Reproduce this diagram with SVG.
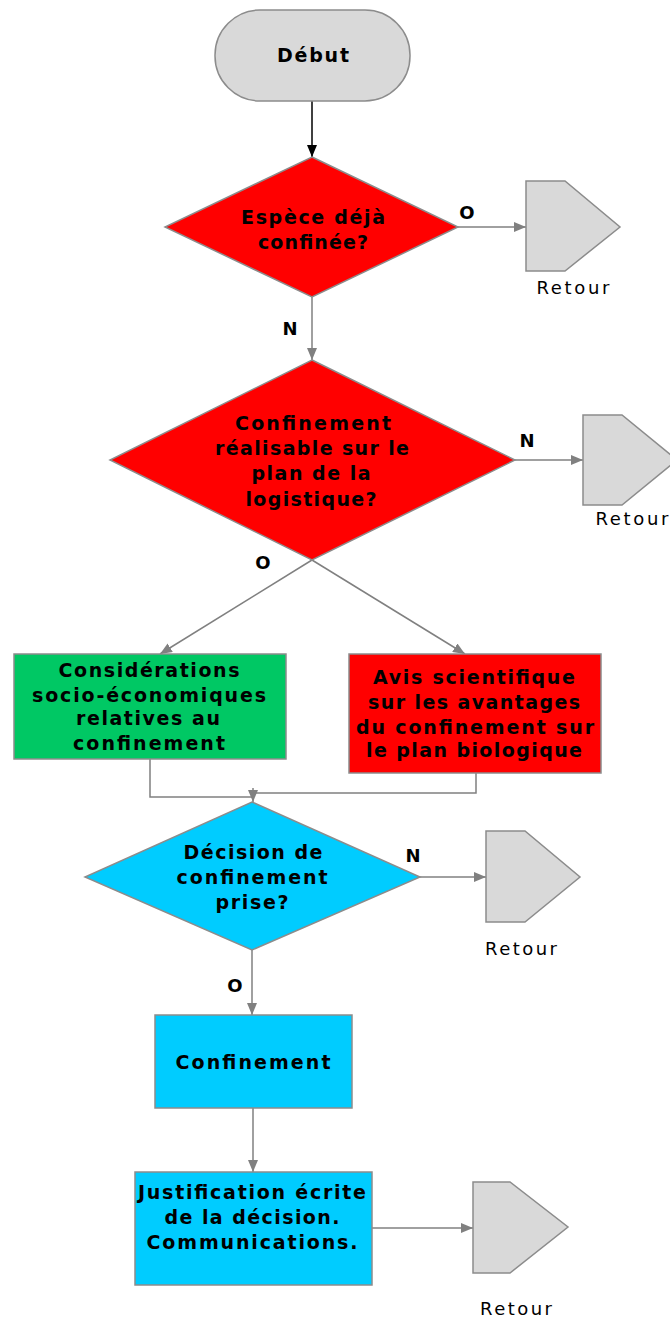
<svg xmlns="http://www.w3.org/2000/svg" width="670" height="1320" viewBox="0 0 670 1320">
  <defs>
    <marker id="arrow-gray" viewBox="0 0 12 10" refX="12" refY="5" markerWidth="12" markerHeight="10" markerUnits="userSpaceOnUse" orient="auto">
      <path d="M0,0 L12,5 L0,10 z" fill="#808080"/>
    </marker>
    <marker id="arrow-black" viewBox="0 0 12 10" refX="12" refY="5" markerWidth="12" markerHeight="10" markerUnits="userSpaceOnUse" orient="auto">
      <path d="M0,0 L12,5 L0,10 z" fill="#000"/>
    </marker>
  </defs>
  <style>
    .shape { stroke: #8c8c8c; stroke-width: 1.5; }
    .start { fill: #d9d9d9; }
    .ret { fill: #d9d9d9; }
    .red { fill: #ff0000; }
    .green { fill: #00c864; }
    .blue { fill: #00ccff; }
    .t { font-family: "DejaVu Sans", "Liberation Sans", sans-serif; font-weight: bold; font-size: 19px; fill: #000; text-anchor: middle; }
    .lbl { font-family: "DejaVu Sans", "Liberation Sans", sans-serif; font-weight: bold; font-size: 18px; fill: #000; text-anchor: middle; }
    .rt { font-family: "DejaVu Sans", "Liberation Sans", sans-serif; font-size: 18px; fill: #000; text-anchor: middle; }
    .c { fill: none; stroke: #808080; stroke-width: 1.5; }
  </style>
  <rect width="670" height="1320" fill="#fff"/>

  <!-- connectors -->
  <g id="connectors">
    <line x1="312" y1="101" x2="312" y2="157" stroke="#000" stroke-width="1.5" marker-end="url(#arrow-black)"/>
    <line class="c" x1="458" y1="227" x2="526" y2="227" marker-end="url(#arrow-gray)"/>
    <line class="c" x1="312" y1="297" x2="312" y2="360" marker-end="url(#arrow-gray)"/>
    <line class="c" x1="515" y1="460" x2="583" y2="460" marker-end="url(#arrow-gray)"/>
    <line class="c" x1="312" y1="560" x2="160" y2="654" marker-end="url(#arrow-gray)"/>
    <line class="c" x1="312" y1="560" x2="465" y2="654" marker-end="url(#arrow-gray)"/>
    <polyline class="c" points="150,759 150,797 253,797"/>
    <polyline class="c" points="476,773 476,793 253,793"/>
    <line class="c" x1="253" y1="788" x2="253" y2="802" marker-end="url(#arrow-gray)"/>
    <line class="c" x1="420" y1="877" x2="486" y2="877" marker-end="url(#arrow-gray)"/>
    <line class="c" x1="252" y1="950" x2="252" y2="1015" marker-end="url(#arrow-gray)"/>
    <line class="c" x1="253" y1="1108" x2="253" y2="1172" marker-end="url(#arrow-gray)"/>
    <line class="c" x1="372" y1="1228" x2="473" y2="1228" marker-end="url(#arrow-gray)"/>
  </g>

  <!-- branch labels -->
  <g id="labels">
    <text class="lbl" x="467" y="219">O</text>
    <text class="lbl" x="290" y="335">N</text>
    <text class="lbl" x="527" y="447">N</text>
    <text class="lbl" x="263" y="569">O</text>
    <text class="lbl" x="413" y="862">N</text>
    <text class="lbl" x="235" y="992">O</text>
  </g>

  <g id="debut">
    <rect class="shape start" x="215" y="10" width="195" height="91" rx="45" ry="45"/>
    <text class="t" x="313" y="62" textLength="72" lengthAdjust="spacing">Début</text>
  </g>

  <g id="espece-confinee">
    <polygon class="shape red" points="312,157 458,227 312,297 165,227"/>
    <text class="t" x="313" y="224" textLength="144" lengthAdjust="spacing">Espèce déjà</text>
    <text class="t" x="313" y="249" textLength="110" lengthAdjust="spacing">confinée?</text>
  </g>

  <g id="retour-1">
    <polygon class="shape ret" points="526,181 565,181 620,227 565,271 526,271"/>
    <text class="rt" x="573" y="294" textLength="73" lengthAdjust="spacing">Retour</text>
  </g>

  <g id="confinement-realisable">
    <polygon class="shape red" points="312,360 515,460 312,560 110,460"/>
    <text class="t" x="313" y="430" textLength="156" lengthAdjust="spacing">Confinement</text>
    <text class="t" x="312" y="455" textLength="194" lengthAdjust="spacing">réalisable sur le</text>
    <text class="t" x="311" y="480" textLength="119" lengthAdjust="spacing">plan de la</text>
    <text class="t" x="311" y="506" textLength="131" lengthAdjust="spacing">logistique?</text>
  </g>

  <g id="retour-2">
    <polygon class="shape ret" points="583,415 622,415 677,460 622,505 583,505"/>
    <text class="rt" x="632" y="525" textLength="73" lengthAdjust="spacing">Retour</text>
  </g>

  <g id="considerations">
    <rect class="shape green" x="14" y="654" width="272" height="105"/>
    <text class="t" x="149" y="677" textLength="181" lengthAdjust="spacing">Considérations</text>
    <text class="t" x="149" y="702" textLength="234" lengthAdjust="spacing">socio-économiques</text>
    <text class="t" x="148" y="725" textLength="144" lengthAdjust="spacing">relatives au</text>
    <text class="t" x="149" y="750" textLength="152" lengthAdjust="spacing">confinement</text>
  </g>

  <g id="avis-scientifique">
    <rect class="shape red" x="349" y="654" width="252" height="119"/>
    <text class="t" x="474" y="684" textLength="202" lengthAdjust="spacing">Avis scientifique</text>
    <text class="t" x="474" y="709" textLength="212" lengthAdjust="spacing">sur les avantages</text>
    <text class="t" x="475" y="734" textLength="238" lengthAdjust="spacing">du confinement sur</text>
    <text class="t" x="474" y="757" textLength="216" lengthAdjust="spacing">le plan biologique</text>
  </g>

  <g id="decision">
    <polygon class="shape blue" points="252,802 420,877 252,950 85,877"/>
    <text class="t" x="253" y="859" textLength="139" lengthAdjust="spacing">Décision de</text>
    <text class="t" x="252" y="884" textLength="151" lengthAdjust="spacing">confinement</text>
    <text class="t" x="252" y="909" textLength="73" lengthAdjust="spacing">prise?</text>
  </g>

  <g id="retour-3">
    <polygon class="shape ret" points="486,831 525,831 580,877 525,922 486,922"/>
    <text class="rt" x="521" y="955" textLength="72" lengthAdjust="spacing">Retour</text>
  </g>

  <g id="confinement">
    <rect class="shape blue" x="155" y="1015" width="197" height="93"/>
    <text class="t" x="253" y="1069" textLength="155" lengthAdjust="spacing">Confinement</text>
  </g>

  <g id="justification">
    <rect class="shape blue" x="135" y="1172" width="237" height="113"/>
    <text class="t" x="252" y="1199" textLength="228" lengthAdjust="spacing">Justification écrite</text>
    <text class="t" x="252" y="1224" textLength="175" lengthAdjust="spacing">de la décision.</text>
    <text class="t" x="252" y="1249" textLength="211" lengthAdjust="spacing">Communications.</text>
  </g>

  <g id="retour-4">
    <polygon class="shape ret" points="473,1182 510,1182 568,1227 510,1273 473,1273"/>
    <text class="rt" x="516" y="1315" textLength="72" lengthAdjust="spacing">Retour</text>
  </g>
</svg>
